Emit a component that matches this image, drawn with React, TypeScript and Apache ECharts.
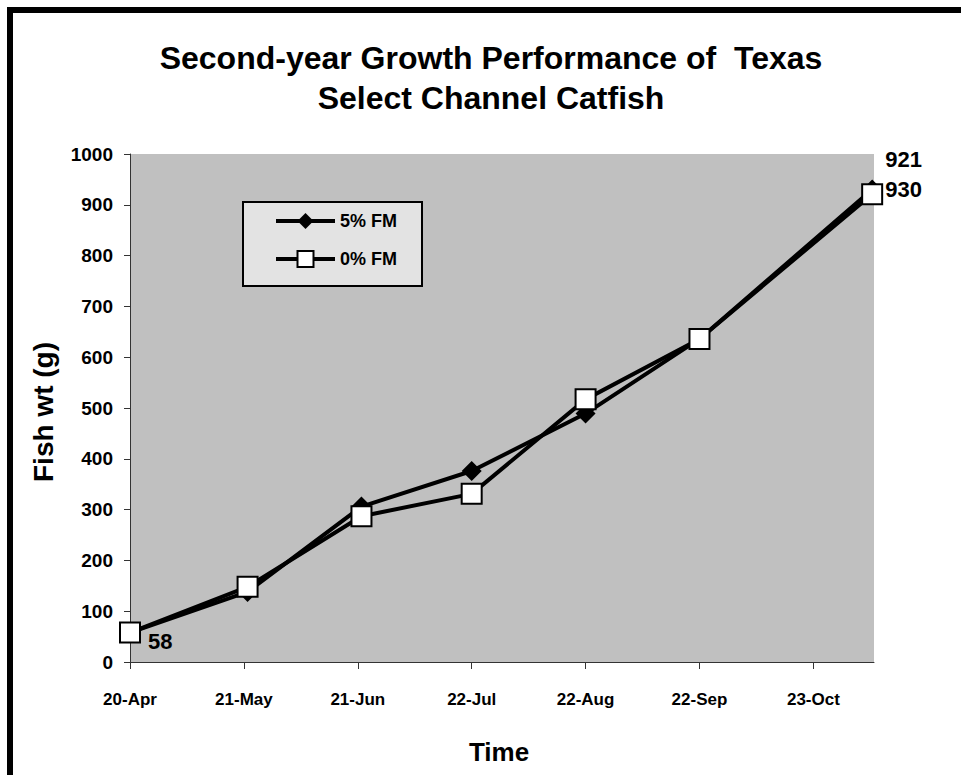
import React, { useEffect, useRef } from 'react';
import * as echarts from 'echarts';

const axisStart = '2008-04-20';
const axisEndDays = 202.5;
const tickDays = [0, 31, 62, 93, 124, 155, 186];
const tickLabels = ['20-Apr', '21-May', '21-Jun', '22-Jul', '22-Aug', '22-Sep', '23-Oct'];
const sampleDates = ['2008-04-20', '2008-05-22', '2008-06-22', '2008-07-22', '2008-08-22', '2008-09-22', '2008-11-08'];
const fm5 = [58, 138, 306, 376, 489, 636, 930];
const fm0 = [58, 148, 287, 331, 517, 636, 921];
const seriesNames = ['5% FM', '0% FM'];
const titleText = 'Second-year Growth Performance of  Texas\nSelect Channel Catfish';
const yName = 'Fish wt (g)';
const xName = 'Time';

const FONT = "'Liberation Sans', Arial, sans-serif";

function dayOf(d: string): number {
  return (Date.parse(d) - Date.parse(axisStart)) / 86400000;
}

export default function App() {
  const ref = useRef<HTMLDivElement>(null);
  useEffect(() => {
    if (!ref.current) return;
    const chart = echarts.init(ref.current, undefined, { renderer: 'svg' });
    const days = sampleDates.map(dayOf);
    const labelBase = {
      show: true,
      color: '#000',
      fontFamily: FONT,
      fontWeight: 'bold' as const,
      fontSize: 22,
    };
    const data5 = fm5.map((v, i) => {
      const item: any = { value: [days[i], v] };
      if (i === fm5.length - 1) {
        item.label = { ...labelBase, position: 'right', distance: 3, formatter: String(v) };
      }
      return item;
    });
    const data0 = fm0.map((v, i) => {
      const item: any = { value: [days[i], v] };
      if (i === 0) {
        item.label = { ...labelBase, position: 'right', distance: 7, offset: [0, 9], formatter: String(v) };
      }
      if (i === fm0.length - 1) {
        item.label = { ...labelBase, position: 'right', distance: 2, offset: [0, -35], formatter: String(v) };
      }
      return item;
    });
    chart.setOption({
      animation: false,
      grid: {
        left: 130,
        right: 87,
        top: 154,
        bottom: 113,
        show: true,
        backgroundColor: '#c0c0c0',
        borderWidth: 0,
      },
      title: {
        text: titleText,
        left: 486,
        top: 33,
        textAlign: 'center',
        textStyle: {
          fontFamily: FONT,
          fontWeight: 'bold',
          fontSize: 32,
          lineHeight: 40,
          color: '#000',
        },
      },
      legend: {
        orient: 'vertical',
        left: 243,
        top: 202,
        itemWidth: 59,
        itemHeight: 20,
        itemGap: 20,
        padding: [10, 25, 18, 31],
        backgroundColor: '#e3e3e3',
        borderColor: '#000',
        borderWidth: 2,
        data: seriesNames,
        lineStyle: { width: 4 },
        textStyle: {
          fontFamily: FONT,
          fontWeight: 'bold',
          fontSize: 18,
          color: '#000',
        },
      },
      xAxis: {
        type: 'value',
        min: 0,
        max: axisEndDays,
        splitLine: { show: false },
        axisLine: { show: true, onZero: false, lineStyle: { color: '#333', width: 1 } },
        axisTick: { show: true, customValues: tickDays, length: 7, lineStyle: { color: '#333' } },
        axisLabel: {
          customValues: tickDays,
          margin: 29,
          formatter: (v: number) => {
            const k = tickDays.indexOf(Math.round(v));
            return k >= 0 ? tickLabels[k] : '';
          },
          fontFamily: FONT,
          fontWeight: 'bold',
          fontSize: 17,
          color: '#000',
        },
      },
      yAxis: {
        type: 'value',
        min: 0,
        max: 1000,
        interval: 100,
        splitLine: { show: false },
        axisLine: { show: true, lineStyle: { color: '#333', width: 1 } },
        axisTick: { show: true, length: 6, lineStyle: { color: '#333' } },
        axisLabel: {
          margin: 17,
          formatter: (v: number) => String(v),
          fontFamily: FONT,
          fontWeight: 'bold',
          fontSize: 19,
          color: '#000',
        },
      },
      series: [
        {
          name: seriesNames[0],
          type: 'line',
          data: data5,
          symbol: 'diamond',
          symbolSize: 20,
          itemStyle: { color: '#000' },
          lineStyle: { color: '#000', width: 4 },
          z: 2,
        },
        {
          name: seriesNames[1],
          type: 'line',
          data: data0,
          symbol: 'rect',
          symbolSize: 20,
          itemStyle: { color: '#fff', borderColor: '#000', borderWidth: 2 },
          lineStyle: { color: '#000', width: 4 },
          z: 3,
        },
      ],
      graphic: [
        {
          type: 'rect',
          silent: true,
          shape: { x: 10, y: 10, width: 1200, height: 1200 },
          style: { fill: 'none', stroke: '#000', lineWidth: 6 },
        },
        {
          type: 'text',
          x: 43,
          y: 412,
          rotation: Math.PI / 2,
          style: {
            text: yName,
            fontFamily: FONT,
            fontWeight: 'bold',
            fontSize: 28,
            fill: '#000',
            align: 'center',
            verticalAlign: 'middle',
          },
        },
        {
          type: 'text',
          x: 499,
          y: 752,
          style: {
            text: xName,
            fontFamily: FONT,
            fontWeight: 'bold',
            fontSize: 26,
            fill: '#000',
            align: 'center',
            verticalAlign: 'middle',
          },
        },
      ],
    });
    return () => chart.dispose();
  }, []);
  return <div ref={ref} style={{ position: 'absolute', left: 0, top: 0, width: 961, height: 775 }} />;
}
